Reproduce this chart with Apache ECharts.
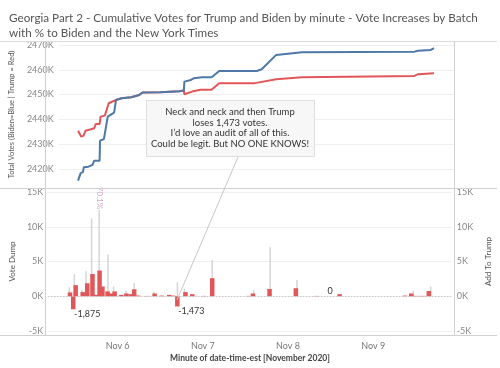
<!DOCTYPE html>
<html><head><meta charset="utf-8">
<script src="https://cdn.jsdelivr.net/npm/echarts@6/dist/echarts.min.js"></script>
<style>html,body{margin:0;padding:0;background:#fff}#c{width:500px;height:368px}</style>
</head><body><div id="c"></div>
<script>
const titleText = 'Georgia Part 2 - Cumulative Votes for Trump and Biden by minute - Vote Increases by Batch\nwith % to Biden and the New York Times';
const xAxisMin = '2020-11-05 05:06';
const xAxisMax = '2020-11-09 21:28';

const blueTimes = ['2020-11-05 10:35','2020-11-05 11:20','2020-11-05 11:58','2020-11-05 12:14','2020-11-05 13:32','2020-11-05 14:43','2020-11-05 15:11','2020-11-05 16:43','2020-11-05 16:50','2020-11-05 17:56','2020-11-05 19:02','2020-11-05 19:18','2020-11-05 20:50','2020-11-05 21:23','2020-11-05 22:58','2020-11-06 01:42','2020-11-06 03:59','2020-11-06 04:55','2020-11-06 09:57','2020-11-06 15:26','2020-11-06 16:40','2020-11-06 16:49','2020-11-06 18:40','2020-11-06 19:34','2020-11-06 21:50','2020-11-07 00:35','2020-11-07 02:43','2020-11-07 13:25','2020-11-07 14:48','2020-11-07 18:55','2020-11-08 02:15','2020-11-09 10:13','2020-11-09 11:14','2020-11-09 14:53','2020-11-09 15:47'];
const blueVotes = [2415300,2418300,2418700,2420700,2420900,2421600,2423300,2423300,2431400,2432000,2441100,2441800,2442700,2447800,2448500,2448900,2449800,2450800,2450900,2451300,2451600,2455200,2455900,2456600,2457000,2457000,2459500,2459500,2460200,2466000,2467100,2467300,2467700,2468000,2468700];

const redTimes = ['2020-11-05 10:35','2020-11-05 11:30','2020-11-05 12:10','2020-11-05 12:43','2020-11-05 14:15','2020-11-05 15:11','2020-11-05 15:37','2020-11-05 16:43','2020-11-05 17:00','2020-11-05 18:12','2020-11-05 19:18','2020-11-05 20:13','2020-11-05 21:23','2020-11-05 22:58','2020-11-06 01:42','2020-11-06 03:59','2020-11-06 04:55','2020-11-06 09:57','2020-11-06 15:26','2020-11-06 16:40','2020-11-06 16:49','2020-11-06 19:01','2020-11-06 21:24','2020-11-07 00:31','2020-11-07 02:43','2020-11-07 12:52','2020-11-07 18:55','2020-11-08 02:15','2020-11-09 10:13','2020-11-09 11:14','2020-11-09 15:47'];
const redVotes = [2435400,2433000,2433400,2435400,2436000,2436400,2438100,2438100,2441100,2441500,2446500,2447100,2447800,2448500,2448900,2449800,2450800,2450900,2451300,2451600,2450100,2451200,2451900,2451900,2454600,2454600,2456200,2457000,2457500,2458200,2458600];

const trumpAddTimes = ['2020-11-05 10:35','2020-11-05 11:30','2020-11-05 12:11','2020-11-05 14:10','2020-11-05 15:27','2020-11-05 16:55','2020-11-05 17:49','2020-11-05 18:55','2020-11-05 19:43','2020-11-05 21:10','2020-11-05 22:11','2020-11-05 23:09','2020-11-06 01:01','2020-11-06 02:28','2020-11-06 03:43','2020-11-06 04:40','2020-11-06 05:49','2020-11-06 08:18','2020-11-06 10:25','2020-11-06 12:25','2020-11-06 14:32','2020-11-06 15:35','2020-11-06 16:49','2020-11-06 19:06','2020-11-06 21:01','2020-11-07 00:22','2020-11-07 02:39','2020-11-07 12:57','2020-11-07 14:07','2020-11-07 18:47','2020-11-08 02:12','2020-11-08 08:01','2020-11-08 11:52','2020-11-08 14:31','2020-11-09 08:55','2020-11-09 10:41','2020-11-09 11:52','2020-11-09 13:14','2020-11-09 14:20','2020-11-09 15:39'];
const trumpAddVotes = [550,-1875,1600,600,1870,3200,200,3700,1400,700,400,700,200,400,300,1000,100,50,400,100,200,100,-1473,600,300,50,2600,50,400,1050,1150,50,0,300,100,400,50,50,50,750];

const voteDumpTimes = ['2020-11-05 10:47','2020-11-05 12:10','2020-11-05 14:15','2020-11-05 15:27','2020-11-05 17:00','2020-11-05 19:07','2020-11-05 21:35','2020-11-05 23:09','2020-11-06 02:37','2020-11-06 04:55','2020-11-06 10:25','2020-11-06 17:00','2020-11-06 18:56','2020-11-07 02:43','2020-11-07 14:20','2020-11-07 18:55','2020-11-08 02:25','2020-11-09 10:54','2020-11-09 15:47'];
const voteDumpVotes = [1300,3200,900,3600,11200,12400,6000,1400,800,1900,600,2000,1100,5200,900,7050,2350,800,1400];
const voteDumpNotes = ['','','','','','70.1%','','','','','','','','','','','','',''];

const annotationLines = ['Neck and neck and then Trump','loses 1,473 votes.','I\u2019d love an audit of all of this.','Could be legit. But NO ONE KNOWS!'];

function toMs(s){const [d,t]=s.split(' ');const [Y,M,D]=d.split('-').map(Number);const [h,m]=t.split(':').map(Number);return new Date(Y,M-1,D,h,m).getTime();}
const FONT = 'Lato, "Open Sans", sans-serif';
const chart = echarts.init(document.getElementById('c'), null, {renderer:'canvas'});

const trumpData = trumpAddTimes.map((t,i)=>{
  const v = trumpAddVotes[i];
  const item = {value:[toMs(t), v]};
  if (v <= -1000) item.label = {show:true, position:'bottom', offset:[14,-5], formatter: ()=>v.toLocaleString('en-US'), color:'#333', fontSize:9, fontFamily:FONT};
  else if (v === 0) item.label = {show:true, position:'top', offset:[0,4], formatter:'0', color:'#333', fontSize:9, fontFamily:FONT};
  return item;
});
const dumpData = voteDumpTimes.map((t,i)=>{
  const item = {value:[toMs(t), voteDumpVotes[i]]};
  if (voteDumpNotes[i]) item.label = {show:true, position:'top', distance:1, rotate:-90, align:'right', verticalAlign:'middle', formatter: voteDumpNotes[i], color:'#d3a6cc', fontSize:8, fontFamily:FONT};
  return item;
});

const xMin = toMs(xAxisMin), xMax = toMs(xAxisMax);
const dayFmt = v => { const d = new Date(v); return (d.getHours()===0 && d.getMinutes()===0) ? 'Nov ' + d.getDate() : ''; };
const kFmt = step => v => { const r = Math.round(v/step)*step; return Math.abs(v - r) < 1 ? (r/1000) + 'K' : ''; };
const axisLabelBase = {color:'#888', fontSize:9, fontFamily:FONT, showMinLabel:true, showMaxLabel:true, hideOverlap:false};

chart.setOption({
  animation:false,
  backgroundColor:'#fff',
  title:{text:titleText, left:4, top:5, textStyle:{color:'#555', fontSize:11.7, fontWeight:'normal', fontFamily:FONT, lineHeight:15.5}},
  grid:[
    {left:45, right:46, top:41, height:147},
    {left:45, right:46, top:188, height:147}
  ],
  xAxis:[
    {type:'time', gridIndex:0, min:xMin, max:xMax, show:false},
    {type:'time', gridIndex:1, min:xMin, max:xMax, minInterval:86400000, maxInterval:86400000,
      axisLine:{show:false, onZero:false}, axisTick:{show:false}, splitLine:{show:false},
      axisLabel:{color:'#777', fontSize:9, fontFamily:FONT, margin:7, formatter:dayFmt},
      name:'Minute of date-time-est [November 2020]', nameLocation:'middle', nameGap:19,
      nameTextStyle:{color:'#444', fontSize:8.5, fontWeight:'bold', fontFamily:FONT}},
    {type:'time', gridIndex:1, min:xMin, max:xMax, show:false, axisLine:{onZero:false}}
  ],
  yAxis:[
    {type:'value', gridIndex:0, min:2412300, max:2471600,
      axisLine:{show:false}, axisTick:{show:false},
      splitLine:{lineStyle:{color:'#efefef', width:1}},
      axisLabel:{...axisLabelBase, margin:5, formatter:kFmt(10000)},
      name:'Total Votes (Biden=Blue | Trump = Red)', nameLocation:'middle', nameRotate:90, nameGap:30,
      nameTextStyle:{color:'#555', fontSize:7.5, fontFamily:FONT}},
    {type:'value', gridIndex:1, min:-5576, max:15576,
      axisLine:{show:false}, axisTick:{show:false},
      splitLine:{lineStyle:{color:'#efefef', width:1}},
      axisLabel:{...axisLabelBase, margin:5, formatter:kFmt(5000)},
      name:'Vote Dump', nameLocation:'middle', nameRotate:90, nameGap:30,
      nameTextStyle:{color:'#555', fontSize:8, fontFamily:FONT}},
    {type:'value', gridIndex:1, position:'right', min:-5576, max:15576,
      axisLine:{show:false}, axisTick:{show:false}, splitLine:{show:false},
      axisLabel:{...axisLabelBase, margin:5, formatter:kFmt(5000)},
      name:'Add To Trump', nameLocation:'middle', nameRotate:90, nameGap:30,
      nameTextStyle:{color:'#555', fontSize:8, fontFamily:FONT}}
  ],
  series:[
    {type:'line', xAxisIndex:0, yAxisIndex:0, data:redTimes.map((t,i)=>[toMs(t), redVotes[i]]), showSymbol:false, symbol:'none', lineStyle:{color:'#e15759', width:2}, itemStyle:{color:'#e15759'}, z:2},
    {type:'line', xAxisIndex:0, yAxisIndex:0, data:blueTimes.map((t,i)=>[toMs(t), blueVotes[i]]), showSymbol:false, symbol:'none', lineStyle:{color:'#4e79a7', width:2}, itemStyle:{color:'#4e79a7'}, z:3},
    {type:'bar', xAxisIndex:2, yAxisIndex:1, data:dumpData, barWidth:1.5, itemStyle:{color:'#d5d5d5'}, z:2},
    {type:'bar', xAxisIndex:1, yAxisIndex:1, data:trumpData, barWidth:4.5, itemStyle:{color:'#e15759'}, z:3,
      markLine:{silent:true, symbol:'none', label:{show:false}, lineStyle:{color:'#bbb', type:[1,2], width:1}, data:[{yAxis:0}]}}
  ],
  graphic:[
    {type:'line', shape:{x1:0, y1:41.5, x2:497, y2:41.5}, style:{stroke:'#dcdcdc', lineWidth:1}, silent:true, z:10},
    {type:'line', shape:{x1:0, y1:188.5, x2:497, y2:188.5}, style:{stroke:'#d0d0d0', lineWidth:1}, silent:true, z:10},
    {type:'line', shape:{x1:0, y1:335.5, x2:497, y2:335.5}, style:{stroke:'#d0d0d0', lineWidth:1}, silent:true, z:10},
    {type:'line', shape:{x1:45.5, y1:41, x2:45.5, y2:336}, style:{stroke:'#d0d0d0', lineWidth:1}, silent:true, z:10},
    {type:'line', shape:{x1:454.5, y1:41, x2:454.5, y2:336}, style:{stroke:'#d0d0d0', lineWidth:1}, silent:true, z:10},
    {type:'line', shape:{x1:238, y1:157, x2:177, y2:300}, style:{stroke:'#c8c8c8', lineWidth:1}, silent:true, z:20},
    {type:'rect', shape:{x:146.5, y:100.5, width:168, height:56}, style:{fill:'#f7f7f7', stroke:'#dedede', lineWidth:1}, silent:true, z:21},
    {type:'text', x:230, y:128, style:{text:annotationLines.join('\n'), fill:'#333', fontSize:9.5, fontFamily:FONT, lineHeight:10.7, align:'center', verticalAlign:'middle', textAlign:'center', textVerticalAlign:'middle'}, silent:true, z:22}
  ]
});
</script></body></html>
